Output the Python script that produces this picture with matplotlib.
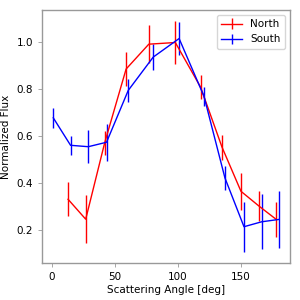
import numpy as np
import matplotlib
matplotlib.use("Agg")
import matplotlib.pyplot as plt

# North
north_angle = [13, 27, 42, 59, 77, 98, 118, 135, 150, 164.5, 178]
north_flux = [0.33, 0.245, 0.57, 0.885, 0.991, 0.998, 0.808, 0.552, 0.364, 0.30, 0.244]
north_err = [0.072, 0.103, 0.052, 0.072, 0.082, 0.09, 0.051, 0.053, 0.08, 0.064, 0.076]

# South
south_angle = [1.3, 15, 29, 43.5, 60.7, 80.5, 101, 120.7, 137.3, 152.4, 166.4, 180]
south_flux = [0.677, 0.56, 0.554, 0.573, 0.794, 0.936, 1.015, 0.769, 0.421, 0.213, 0.234, 0.244]
south_err = [0.043, 0.04, 0.07, 0.078, 0.048, 0.055, 0.069, 0.04, 0.052, 0.106, 0.117, 0.122]

plt.rcParams['font.size'] = 7.5

fig = plt.figure(figsize=(3, 3), dpi=100)
ax = fig.add_axes([0.14, 0.123, 0.827, 0.844])
ax.errorbar(north_angle, north_flux, yerr=north_err, color='red', lw=1, elinewidth=1, label='North')
ax.errorbar(south_angle, south_flux, yerr=south_err, color='blue', lw=1, elinewidth=1, label='South')
ax.set_xlabel("Scattering Angle [deg]", labelpad=2)
ax.set_ylabel("Normalized Flux")
ax.set_xticks([0, 50, 100, 150])
ax.set_yticks([0.2, 0.4, 0.6, 0.8, 1.0])
for sp in ax.spines.values():
    sp.set_color('#999999')
    sp.set_linewidth(1)
ax.tick_params(length=3, width=0.6, colors='#999999', labelcolor='black')
ax.legend(loc='upper right', fontsize=7.5)
fig.savefig("out.png", dpi=100)
